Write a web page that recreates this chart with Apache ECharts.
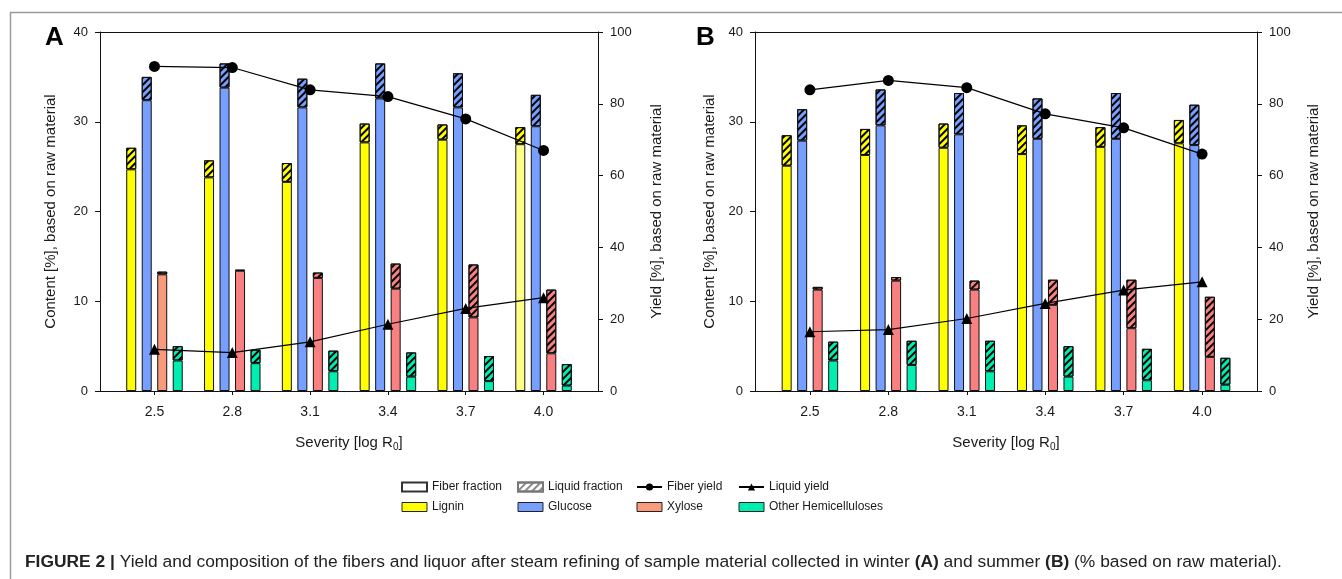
<!DOCTYPE html>
<html>
<head>
<meta charset="utf-8">
<script src="https://cdn.jsdelivr.net/npm/echarts@6/dist/echarts.min.js"></script>
<style>html,body{margin:0;padding:0;background:#fff;}#chart{width:1342px;height:579px;}</style>
</head>
<body>
<div id="chart"></div>
<script>
// ---------- data ----------
const categories = ['2.5', '2.8', '3.1', '3.4', '3.7', '4.0'];
const severityTicks = [2.5, 2.8, 3.1, 3.4, 3.7, 4.0];
const contentTicks = [0, 10, 20, 30, 40];
const yieldTicks = [0, 20, 40, 60, 80, 100];

// Panel A (winter)
const ligninFiberA   = [24.7, 23.8, 23.3, 27.7, 28.0, 27.5];
const ligninLiquidA  = [2.4, 1.9, 2.1, 2.1, 1.7, 1.9];
const glucoseFiberA  = [32.4, 33.8, 31.6, 32.6, 31.6, 29.5];
const glucoseLiquidA = [2.6, 2.7, 3.2, 3.9, 3.8, 3.5];
const xyloseFiberA   = [13.0, 13.4, 12.6, 11.4, 8.2, 4.2];
const xyloseLiquidA  = [0.3, 0.1, 0.6, 2.8, 5.9, 7.1];
const otherFiberA    = [3.4, 3.1, 2.2, 1.6, 1.1, 0.6];
const otherLiquidA   = [1.6, 1.5, 2.3, 2.7, 2.8, 2.4];
const fiberYieldA    = [90.4, 90.1, 83.9, 82.0, 75.8, 67.0];
const liquidYieldA   = [11.6, 10.7, 13.7, 18.6, 23.0, 26.0];

// Panel B (summer)
const ligninFiberB   = [25.1, 26.3, 27.1, 26.4, 27.2, 27.6];
const ligninLiquidB  = [3.4, 2.9, 2.7, 3.2, 2.2, 2.6];
const glucoseFiberB  = [27.9, 29.6, 28.6, 28.1, 28.1, 27.4];
const glucoseLiquidB = [3.5, 4.0, 4.6, 4.5, 5.1, 4.5];
const xyloseFiberB   = [11.3, 12.3, 11.3, 9.6, 7.0, 3.8];
const xyloseLiquidB  = [0.3, 0.4, 1.0, 2.8, 5.4, 6.7];
const otherFiberB    = [3.4, 2.9, 2.2, 1.6, 1.2, 0.7];
const otherLiquidB   = [2.1, 2.7, 3.4, 3.4, 3.5, 3.0];
const fiberYieldB    = [83.9, 86.5, 84.5, 77.2, 73.3, 66.0];
const liquidYieldB   = [16.5, 17.1, 20.2, 24.4, 28.1, 30.4];

const componentNames = ['Lignin', 'Glucose', 'Xylose', 'Other Hemicelluloses'];

// ---------- styling / layout ----------
const FONT = 'Liberation Sans, Arial, Helvetica, sans-serif';
const TXT = '#1a1a1a';
const COLORS = ['#FFFF00', '#779FFF', '#F98080', '#00EFB0'];
const XYLOSE_LEGEND = '#FA9A7C';
const LIGHT_YELLOW = '#FFFF88';
const TOP = 32, HEIGHT = 359;
const XMIN = 2.29, XMAX = 4.21;
const frames = [{left: 100, width: 498, letter: 'A'}, {left: 755, width: 502, letter: 'B'}];

const hatch = {symbol: 'rect', symbolSize: 1, dashArrayX: [1, 0], dashArrayY: [1.6, 3], rotation: -Math.PI / 4, color: '#000'};

const panels = [
  {fiber: [ligninFiberA, glucoseFiberA, xyloseFiberA, otherFiberA],
   liquid: [ligninLiquidA, glucoseLiquidA, xyloseLiquidA, otherLiquidA],
   fy: fiberYieldA, ly: liquidYieldA},
  {fiber: [ligninFiberB, glucoseFiberB, xyloseFiberB, otherFiberB],
   liquid: [ligninLiquidB, glucoseLiquidB, xyloseLiquidB, otherLiquidB],
   fy: fiberYieldB, ly: liquidYieldB}
];

const grid = [], xAxis = [], yAxis = [], series = [], graphic = [];

frames.forEach((f, p) => {
  const scale = f.width / (XMAX - XMIN);
  grid.push({left: f.left, top: TOP, width: f.width, height: HEIGHT});
  grid.push({left: f.left + (2.35 - XMIN) * scale, top: TOP, width: 1.8 * scale, height: HEIGHT});
  const gF = p * 2, gD = p * 2 + 1;
  const xb = p * 3, yb = p * 4;
  xAxis.push({
    type: 'value', gridIndex: gF, min: XMIN, max: XMAX, position: 'bottom',
    axisLine: {show: true, onZero: false, lineStyle: {color: '#111', width: 1}},
    axisTick: {show: true, length: 4, customValues: severityTicks, lineStyle: {color: '#111'}},
    axisLabel: {show: true, customValues: severityTicks, formatter: v => v.toFixed(1), fontSize: 14, margin: 14, color: TXT, fontFamily: FONT},
    splitLine: {show: false},
    name: 'Severity [log R{sub|0}]', nameLocation: 'middle', nameGap: 42,
    nameTextStyle: {fontSize: 15, color: TXT, fontFamily: FONT,
      rich: {sub: {fontSize: 10, color: TXT, fontFamily: FONT, padding: [9, 0, 0, 0]}}}
  });
  xAxis.push({
    type: 'value', gridIndex: gF, min: XMIN, max: XMAX, position: 'top',
    axisLine: {show: true, onZero: false, lineStyle: {color: '#111', width: 1}},
    axisTick: {show: false}, axisLabel: {show: false}, splitLine: {show: false}
  });
  xAxis.push({type: 'category', gridIndex: gD, data: categories, show: false});
  yAxis.push({
    type: 'value', gridIndex: gF, min: 0, max: 40, interval: 10, position: 'left',
    axisLine: {show: true, onZero: false, lineStyle: {color: '#111', width: 1}},
    axisTick: {show: true, length: 5, lineStyle: {color: '#111'}},
    axisLabel: {fontSize: 13, margin: 12, color: TXT, fontFamily: FONT},
    splitLine: {show: false},
    name: 'Content [%], based on raw material', nameLocation: 'middle', nameGap: p === 0 ? 42 : 38,
    nameTextStyle: {fontSize: 15, color: TXT, fontFamily: FONT}
  });
  yAxis.push({
    type: 'value', gridIndex: gF, min: 0, max: 100, interval: 20, position: 'right',
    axisLine: {show: true, onZero: false, lineStyle: {color: '#111', width: 1}},
    axisTick: {show: true, length: 5, lineStyle: {color: '#111'}},
    axisLabel: {fontSize: 13, margin: 12, color: TXT, fontFamily: FONT},
    splitLine: {show: false},
    name: 'Yield [%], based on raw material', nameLocation: 'middle', nameGap: p === 0 ? 51 : 49,
    nameTextStyle: {fontSize: 15, color: TXT, fontFamily: FONT}
  });
  yAxis.push({type: 'value', gridIndex: gD, min: 0, max: 40, show: false, splitLine: {show: false}});
  yAxis.push({type: 'value', gridIndex: gD, min: 0, max: 100, show: false, splitLine: {show: false}});

  const P = panels[p];
  componentNames.forEach((name, c) => {
    const stack = 'p' + p + 'c' + c;
    let fiberData = P.fiber[c].slice();
    if (p === 0 && c === 2) fiberData = fiberData.map((v, i) => i === 0 ? {value: v, itemStyle: {color: XYLOSE_LEGEND}} : v);
    if (p === 0 && c === 0) fiberData = fiberData.map((v, i) => i === 5 ? {value: v, itemStyle: {color: LIGHT_YELLOW}} : v);
    series.push({
      type: 'bar', name: name, stack: stack, xAxisIndex: xb + 2, yAxisIndex: yb + 2,
      data: fiberData, barWidth: 10, barGap: '55%', z: 2,
      itemStyle: {color: COLORS[c], borderColor: '#111', borderWidth: 1},
      emphasis: {disabled: true}
    });
    series.push({
      type: 'bar', name: name, stack: stack, xAxisIndex: xb + 2, yAxisIndex: yb + 2,
      data: P.liquid[c], barWidth: 10, barGap: '55%', z: 2,
      itemStyle: {color: COLORS[c], borderColor: '#111', borderWidth: 1, decal: hatch},
      emphasis: {disabled: true}
    });
  });
  series.push({
    type: 'line', name: 'Fiber yield', xAxisIndex: xb + 2, yAxisIndex: yb + 3,
    data: P.fy, symbol: 'circle', symbolSize: 11, z: 5,
    itemStyle: {color: '#000'}, lineStyle: {color: '#000', width: 1.2}, emphasis: {disabled: true}
  });
  series.push({
    type: 'line', name: 'Liquid yield', xAxisIndex: xb + 2, yAxisIndex: yb + 3,
    data: P.ly, symbol: 'triangle', symbolSize: 11, z: 5,
    itemStyle: {color: '#000'}, lineStyle: {color: '#000', width: 1.2}, emphasis: {disabled: true}
  });

  graphic.push({
    type: 'text', left: p === 0 ? 45 : 696, top: 25, z: 10,
    style: {text: f.letter, font: 'bold 26px ' + FONT, fill: '#000'}
  });
});

// legend-only key series (no data)
series.push({type: 'bar', name: 'Fiber fraction', xAxisIndex: 0, yAxisIndex: 0, data: [],
  itemStyle: {color: '#fff', borderColor: '#333', borderWidth: 1}});
series.push({type: 'bar', name: 'Liquid fraction', xAxisIndex: 0, yAxisIndex: 0, data: [],
  itemStyle: {color: '#fff', borderColor: '#777', borderWidth: 1,
    decal: {symbol: 'rect', symbolSize: 1, dashArrayX: [1, 0], dashArrayY: [1.3, 2.6], rotation: -Math.PI / 4, color: '#888'}}});

const legendBase = {
  orient: 'vertical', top: 480, itemWidth: 25, itemHeight: 9, itemGap: 6, padding: 0,
  selectedMode: false, textStyle: {fontSize: 12, color: TXT, fontFamily: FONT, lineHeight: 14}
};
const box = (name, color) => ({name, icon: 'rect', itemStyle: {color, borderColor: '#222', borderWidth: 1, decal: 'none'}});
const legend = [
  Object.assign({}, legendBase, {left: 401, data: [{name: 'Fiber fraction', icon: 'rect'}, box('Lignin', COLORS[0])]}),
  Object.assign({}, legendBase, {left: 517, data: [{name: 'Liquid fraction', icon: 'rect'}, box('Glucose', COLORS[1])]}),
  Object.assign({}, legendBase, {left: 636, data: ['Fiber yield', box('Xylose', XYLOSE_LEGEND)]}),
  Object.assign({}, legendBase, {left: 738, data: ['Liquid yield', box('Other Hemicelluloses', COLORS[3])]})
];

// outer frame lines + caption
graphic.push({type: 'polyline', z: 1, shape: {points: [[1342, 12.5], [10.5, 12.5], [10.5, 579]]},
  style: {stroke: '#9a9a9a', lineWidth: 1.5, fill: null}});
graphic.push({
  type: 'text', left: 25, top: 554, z: 10,
  style: {
    text: '{b|FIGURE 2 |} Yield and composition of the fibers and liquor after steam refining of sample material collected in winter {b|(A)} and summer {b|(B)} (% based on raw material).',
    fontSize: 17.4, fontFamily: FONT, fill: '#222',
    rich: {b: {fontSize: 17.4, fontFamily: FONT, fontWeight: 'bold', fill: '#222'}}
  }
});

const chart = echarts.init(document.getElementById('chart'), null, {renderer: 'canvas'});
chart.setOption({
  animation: false,
  backgroundColor: '#fff',
  textStyle: {fontFamily: FONT},
  grid, xAxis, yAxis, series, legend, graphic
});
</script>
</body>
</html>
